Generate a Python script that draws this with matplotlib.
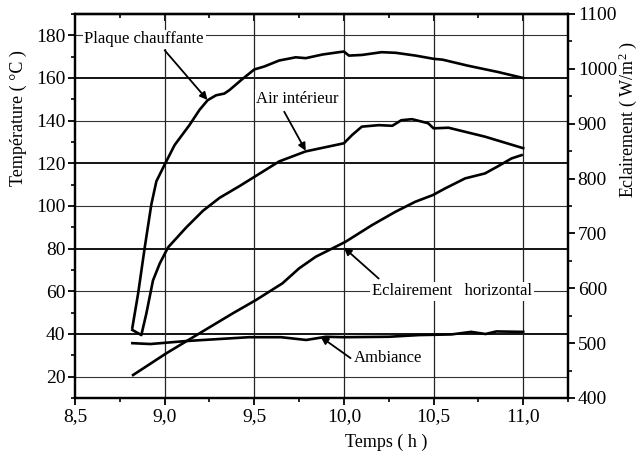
import matplotlib
matplotlib.use("Agg")
import matplotlib.pyplot as plt
from matplotlib.ticker import MultipleLocator, FuncFormatter
import numpy as np

plt.rcParams['font.family'] = ['Liberation Serif', 'DejaVu Serif']
plt.rcParams['mathtext.fontset'] = 'custom'
plt.rcParams['mathtext.rm'] = 'Liberation Serif'
plt.rcParams['mathtext.it'] = 'Liberation Serif:italic'

# Plaque chauffante (left axis, degC)
t_plaque = [8.82, 8.852, 8.889, 8.926, 8.954, 9.0, 9.056, 9.139, 9.194, 9.24, 9.287,
            9.333, 9.361, 9.435, 9.5, 9.556, 9.639, 9.731, 9.787, 9.88, 9.972, 10.0,
            10.028, 10.1, 10.21, 10.29, 10.4, 10.5, 10.55, 10.69, 10.86, 11.0]
T_plaque = [43, 58.9, 80.6, 100.8, 111.6, 119.4, 128.6, 138, 145, 149.6, 151.9,
            152.7, 154.3, 159.6, 164, 165.4, 168.2, 169.7, 169.3, 171, 172.1, 172.4,
            170.5, 170.8, 172.1, 171.8, 170.5, 169, 168.6, 165.8, 162.8, 160]

# Air interieur (left axis)
t_air = [8.82, 8.87, 8.898, 8.935, 8.972, 9.019, 9.12, 9.213, 9.306, 9.417, 9.49,
         9.639, 9.787, 10.0, 10.046, 10.1, 10.194, 10.27, 10.32, 10.38, 10.47, 10.5,
         10.583, 10.787, 11.0]
T_air = [41.9, 39.5, 49.6, 65.1, 72.9, 80.6, 89.9, 97.7, 103.8, 109.3, 113.1,
         120.9, 125.6, 129.4, 133.3, 137.2, 137.9, 137.6, 140.2, 140.7, 138.8, 136.4,
         136.7, 132.5, 127.1]

# Ambiance (left axis)
t_amb = [8.82, 8.92, 9.12, 9.47, 9.65, 9.79, 9.9, 10.0, 10.25, 10.42, 10.6,
         10.71, 10.79, 10.85, 11.0]
T_amb = [35.7, 35.3, 36.7, 38.5, 38.5, 37.2, 38.7, 38.5, 38.7, 39.5, 39.8,
         41, 40, 41.2, 41]

# Eclairement horizontal (right axis, W/m2)
t_ecl = [8.824, 9.009, 9.194, 9.38, 9.509, 9.657, 9.75, 9.843, 9.954, 10.009,
         10.157, 10.287, 10.398, 10.496, 10.565, 10.676, 10.787, 10.861, 10.935, 10.991]
E_ecl = [441.9, 481.4, 517.8, 554.3, 578.5, 609, 636.3, 657.5, 675.7, 684.8,
         715.2, 739.4, 757.7, 769.9, 782.1, 800.3, 809.4, 822.7, 836.7, 842.7]

x_ticks = [8.5, 9.0, 9.5, 10.0, 10.5, 11.0]
T_ticks = [20, 40, 60, 80, 100, 120, 140, 160, 180]
E_ticks = [400, 500, 600, 700, 800, 900, 1000, 1100]

fig = plt.figure(figsize=(6.39, 4.54), dpi=100)
ax = fig.add_axes([75/639, 56/454, 493/639, 384/454])
ax2 = ax.twinx()

ax.set_xlim(8.5, 11.25)
ax.set_ylim(10, 190)
ax2.set_ylim(400, 1100)

# grid, every other horizontal line heavier like the original
for i, v in enumerate(T_ticks):
    if i % 2 == 1:
        ax.axhline(v, color='black', lw=1.3, zorder=0.5)
    else:
        ax.axhline(v, color='#333333', lw=0.8, zorder=0.5)
for v in x_ticks[1:]:
    ax.axvline(v, color='#222222', lw=0.9, zorder=0.5)

lw_c = 1.9
ax.plot(t_plaque, T_plaque, color='black', lw=lw_c)
ax.plot(t_air, T_air, color='black', lw=lw_c)
ax.plot(t_amb, T_amb, color='black', lw=lw_c)
ax2.plot(t_ecl, E_ecl, color='black', lw=lw_c)

comma = FuncFormatter(lambda v, p: f"{v:.1f}".replace('.', ','))
ax.set_xticks(x_ticks)
ax.xaxis.set_major_formatter(comma)
ax.xaxis.set_minor_locator(MultipleLocator(0.25))
ax.set_yticks(T_ticks)
ax.yaxis.set_minor_locator(MultipleLocator(10))
ax2.set_yticks(E_ticks)
ax2.yaxis.set_minor_locator(MultipleLocator(50))

ax.tick_params(which='major', direction='out', length=5, width=1.3, labelsize=14, pad=2)
ax.tick_params(which='minor', direction='out', length=3, width=1.2)
ax2.tick_params(which='major', direction='out', length=5, width=1.3, labelsize=14, pad=2)
ax2.tick_params(which='minor', direction='out', length=3, width=1.2)

top = ax.secondary_xaxis('top')
top.set_xticks(x_ticks)
top.xaxis.set_minor_locator(MultipleLocator(0.25))
top.tick_params(which='major', direction='in', length=5, width=1.3, labeltop=False)
top.tick_params(which='minor', direction='in', length=3, width=1.2)
top.spines['top'].set_linewidth(1.6)

for a in (ax, ax2):
    for s in a.spines.values():
        s.set_linewidth(1.6)

ax.set_xlabel('Temps ( h )', fontsize=13, va='center')
ax.xaxis.set_label_coords(0.631, -0.115)
ax.set_ylabel('Température ( °C )', fontsize=13, va='center')
ax.yaxis.set_label_coords(-0.115, 0.73)
ax2.set_ylabel('Eclairement ( W/m$^2$ )', fontsize=13, va='center')
ax2.yaxis.set_label_coords(1.122, 0.724)

box = dict(boxstyle='square,pad=0.1', fc='white', ec='none')
arrow = dict(arrowstyle='-|>', color='black', lw=1.3, mutation_scale=11, shrinkA=0, shrinkB=0)
labels = [
    ('Plaque chauffante', (8.886, 178.1), (9.0, 173), (9.239, 149.7)),
    ('Air intérieur', (9.742, 150.2), (9.667, 144.2), (9.787, 125.9)),
    ('Eclairement   horizontal', (10.603, 60), (10.194, 66), (10.0, 80.5)),
    ('Ambiance', (10.247, 28.8), (10.037, 28.7), (9.87, 38.7)),
]
for txt, pos, tail, head in labels:
    ax2.text(pos[0], pos[1], txt, transform=ax.transData, fontsize=12,
             ha='center', va='center', bbox=box, zorder=5)
    ax2.annotate('', xy=head, xytext=tail, xycoords=ax.transData,
                 textcoords=ax.transData, arrowprops=arrow, zorder=6)

fig.savefig('out.png', dpi=100)
